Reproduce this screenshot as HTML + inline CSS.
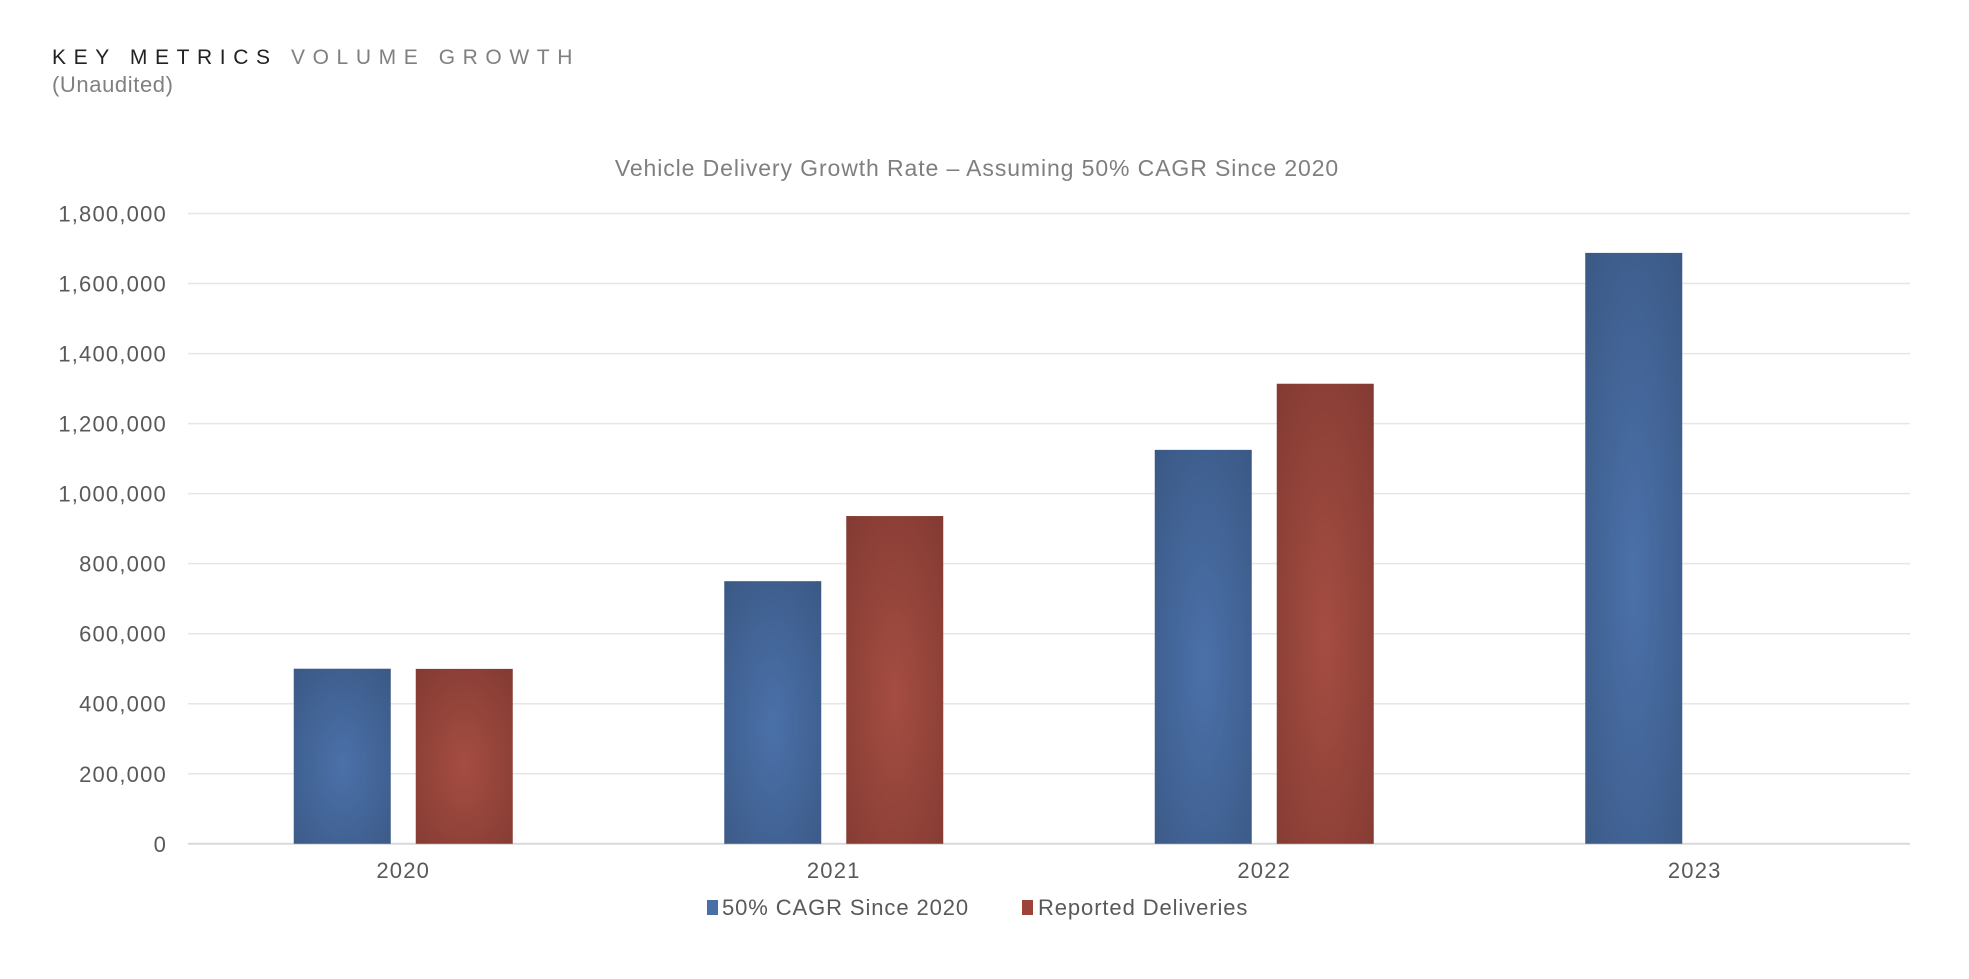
<!DOCTYPE html>
<html><head><meta charset="utf-8">
<style>
html,body{margin:0;padding:0;background:#fff;width:1969px;height:979px;overflow:hidden;font-family:"Liberation Sans",sans-serif;}
#hdr{position:absolute;left:52px;top:46px;font-size:21px;letter-spacing:7.6px;color:#222;}
#hdr span{color:#808080;}
#sub{position:absolute;left:52px;top:72px;font-size:22px;letter-spacing:0.6px;color:#808080;}
svg{position:absolute;left:0;top:0;}
</style></head><body>
<div id="hdr">KEY METRICS <span>VOLUME GROWTH</span></div>
<div id="sub">(Unaudited)</div>
<svg id="chart" width="1969" height="979">
<defs>
<radialGradient id="gb" cx="0.5" cy="0.55" r="0.75"><stop offset="0" stop-color="#4b71aa"/><stop offset="1" stop-color="#3a5884"/></radialGradient>
<radialGradient id="gr" cx="0.5" cy="0.55" r="0.75"><stop offset="0" stop-color="#a54d42"/><stop offset="1" stop-color="#823a32"/></radialGradient>
</defs>
</svg>
<script>
const categories = ["2020","2021","2022","2023"];
const cagrValues = [500000, 750000, 1125000, 1687500];
const reportedValues = [499550, 936000, 1313851, null];
const yTicks = [0,200000,400000,600000,800000,1000000,1200000,1400000,1600000,1800000];
const seriesNames = ["50% CAGR Since 2020","Reported Deliveries"];

const NS="http://www.w3.org/2000/svg";
const svg=document.getElementById('chart');
const L=188,R=1910,T=213.5,B=843.8,YMAX=1800000;
const y=v=>B-(v/YMAX)*(B-T);
const bw=(R-L)/categories.length;
const xc=i=>L+bw*(i+0.5);
function mk(tag,attrs,txt){const e=document.createElementNS(NS,tag);for(const k in attrs)e.setAttribute(k,attrs[k]);if(txt!=null)e.textContent=txt;svg.appendChild(e);return e;}

const t=mk('text',{x:977,y:176,'text-anchor':'middle','font-size':23,'letter-spacing':0.9,fill:'#7f7f7f'},'Vehicle Delivery Growth Rate – Assuming 50% CAGR Since 2020');



yTicks.forEach(v=>{
  const g=mk('line',{x1:L,x2:R,y1:y(v),y2:y(v),stroke:v===0?'#d9d9d9':'#e6e6e6','stroke-width':v===0?2:1.5});
  
  
  const lb=mk('text',{x:167,y:y(v)+8,'text-anchor':'end','font-size':22,'letter-spacing':1.2,fill:'#595959'},v.toLocaleString('en-US'));
  
  
});

const W=97,G=25;
categories.forEach((c,i)=>{
  const cx=xc(i);
  const b1=mk('rect',{x:cx-G/2-W,y:y(cagrValues[i]),width:W,height:B-y(cagrValues[i]),fill:'url(#gb)'});
  
  
  if(reportedValues[i]!=null){
    const b2=mk('rect',{x:cx+G/2,y:y(reportedValues[i]),width:W,height:B-y(reportedValues[i]),fill:'url(#gr)'});
    
    
  }
  const xl=mk('text',{x:cx,y:878,'text-anchor':'middle','font-size':22,'letter-spacing':1.2,fill:'#595959'},c);
  
  
});
const s1=mk('rect',{x:707,y:900,width:11,height:15,fill:'#4a6ea6'});


const l1=mk('text',{x:722,y:915,'font-size':22,'letter-spacing':0.9,fill:'#595959'},seriesNames[0]);


const s2=mk('rect',{x:1022,y:900,width:11,height:15,fill:'#9b4439'});


const l2=mk('text',{x:1038,y:915,'font-size':22,'letter-spacing':0.9,fill:'#595959'},seriesNames[1]);


</script>
</body></html>
